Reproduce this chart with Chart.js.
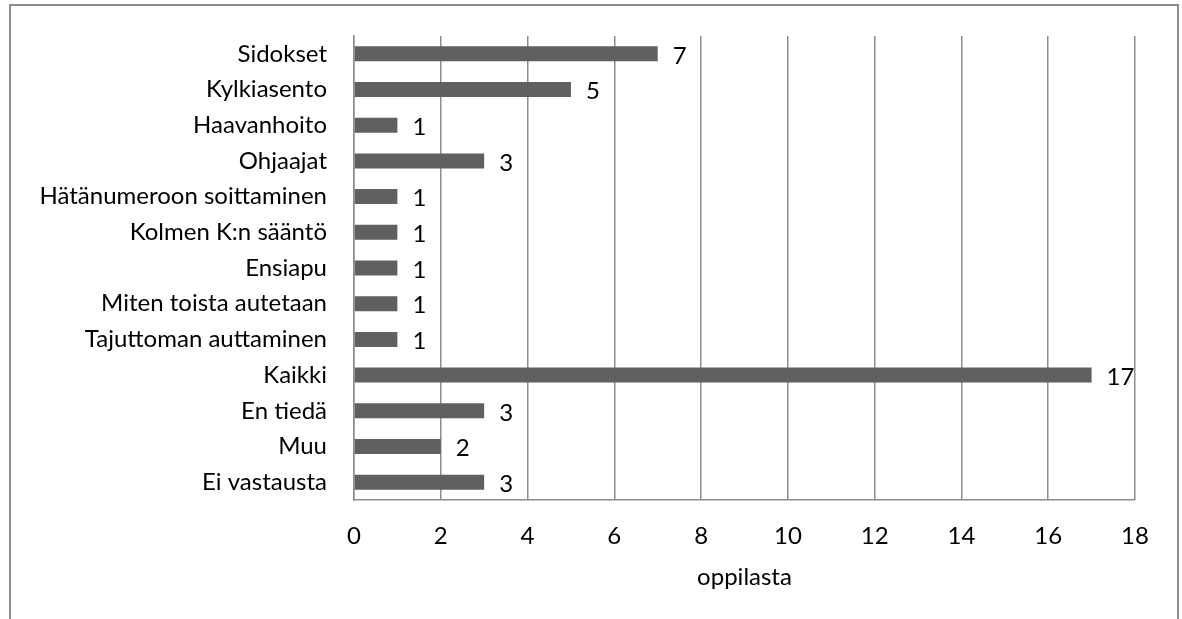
<!DOCTYPE html>
<html>
<head>
<meta charset="utf-8">
<script src="https://cdn.jsdelivr.net/npm/chart.js@4/dist/chart.umd.min.js"></script>
<style>
  body { margin: 0; overflow: hidden; background: #fff; }
  #wrap {
    position: absolute; left: 9px; top: 4px;
    width: 1166px; height: 700px;
    border: 2px solid #8c8c8c;
  }
</style>
</head>
<body>
<div id="wrap"><canvas id="myChart" width="1166" height="700"></canvas></div>
<script>
const categories = [
  'Sidokset', 'Kylkiasento', 'Haavanhoito', 'Ohjaajat',
  'Hätänumeroon soittaminen', 'Kolmen K:n sääntö', 'Ensiapu',
  'Miten toista autetaan', 'Tajuttoman auttaminen', 'Kaikki',
  'En tiedä', 'Muu', 'Ei vastausta'
];
const counts = [7, 5, 1, 3, 1, 1, 1, 1, 1, 17, 3, 2, 3];
const xTicks = [0, 2, 4, 6, 8, 10, 12, 14, 16, 18];
const axisTitle = 'oppilasta';

const fontFamily = 'Lato, "Open Sans", sans-serif';
const fontSize = 24;
const gridGray = '#8c8c8c';

// number printed just right of each bar end
const barValueLabels = {
  id: 'barValueLabels',
  afterDatasetsDraw(chart) {
    const ctx = chart.ctx;
    const meta = chart.getDatasetMeta(0);
    ctx.save();
    ctx.font = fontSize + 'px ' + fontFamily;
    ctx.fillStyle = '#000';
    ctx.textAlign = 'left';
    ctx.textBaseline = 'middle';
    meta.data.forEach((bar, i) => {
      ctx.fillText(String(counts[i]), bar.x + 15, bar.y + 2);
    });
    ctx.restore();
  }
};

const graph01 = document.getElementById('myChart').getContext('2d');

const myChart = new Chart(graph01, {
  type: 'bar',
  data: {
    labels: categories,
    datasets: [{
      data: counts,
      backgroundColor: '#606060',
      borderWidth: 0,
      categoryPercentage: 1,
      barPercentage: 0.42,
    }]
  },
  options: {
    indexAxis: 'y',
    responsive: false,
    animation: false,
    layout: {
      padding: { top: 30, right: 42, left: 0, bottom: 0 }
    },
    plugins: {
      legend: { display: false },
      tooltip: { enabled: false }
    },
    scales: {
      x: {
        min: 0,
        max: 18,
        afterBuildTicks: (scale) => {
          scale.ticks = xTicks.map(v => ({ value: v }));
        },
        afterFit: (scale) => { scale.height = 206; },
        grid: {
          color: gridGray,
          lineWidth: 1.5,
          drawTicks: false,
        },
        border: { display: true, color: gridGray, width: 1.5 },
        ticks: {
          padding: 22,
          color: '#000',
          font: { size: fontSize, family: fontFamily }
        },
        title: {
          display: true,
          text: axisTitle,
          color: '#000',
          font: { size: fontSize, family: fontFamily },
          padding: { top: 0, bottom: 114 }
        }
      },
      y: {
        afterFit: (scale) => {
          scale.width = 343;
          scale.paddingTop = 0;
          scale.paddingBottom = 0;
        },
        grid: { display: false, drawTicks: false },
        border: { display: true, color: gridGray, width: 1.5 },
        ticks: {
          padding: 27,
          color: '#000',
          font: { size: fontSize, family: fontFamily }
        }
      }
    }
  },
  plugins: [barValueLabels]
});
</script>
</body>
</html>
